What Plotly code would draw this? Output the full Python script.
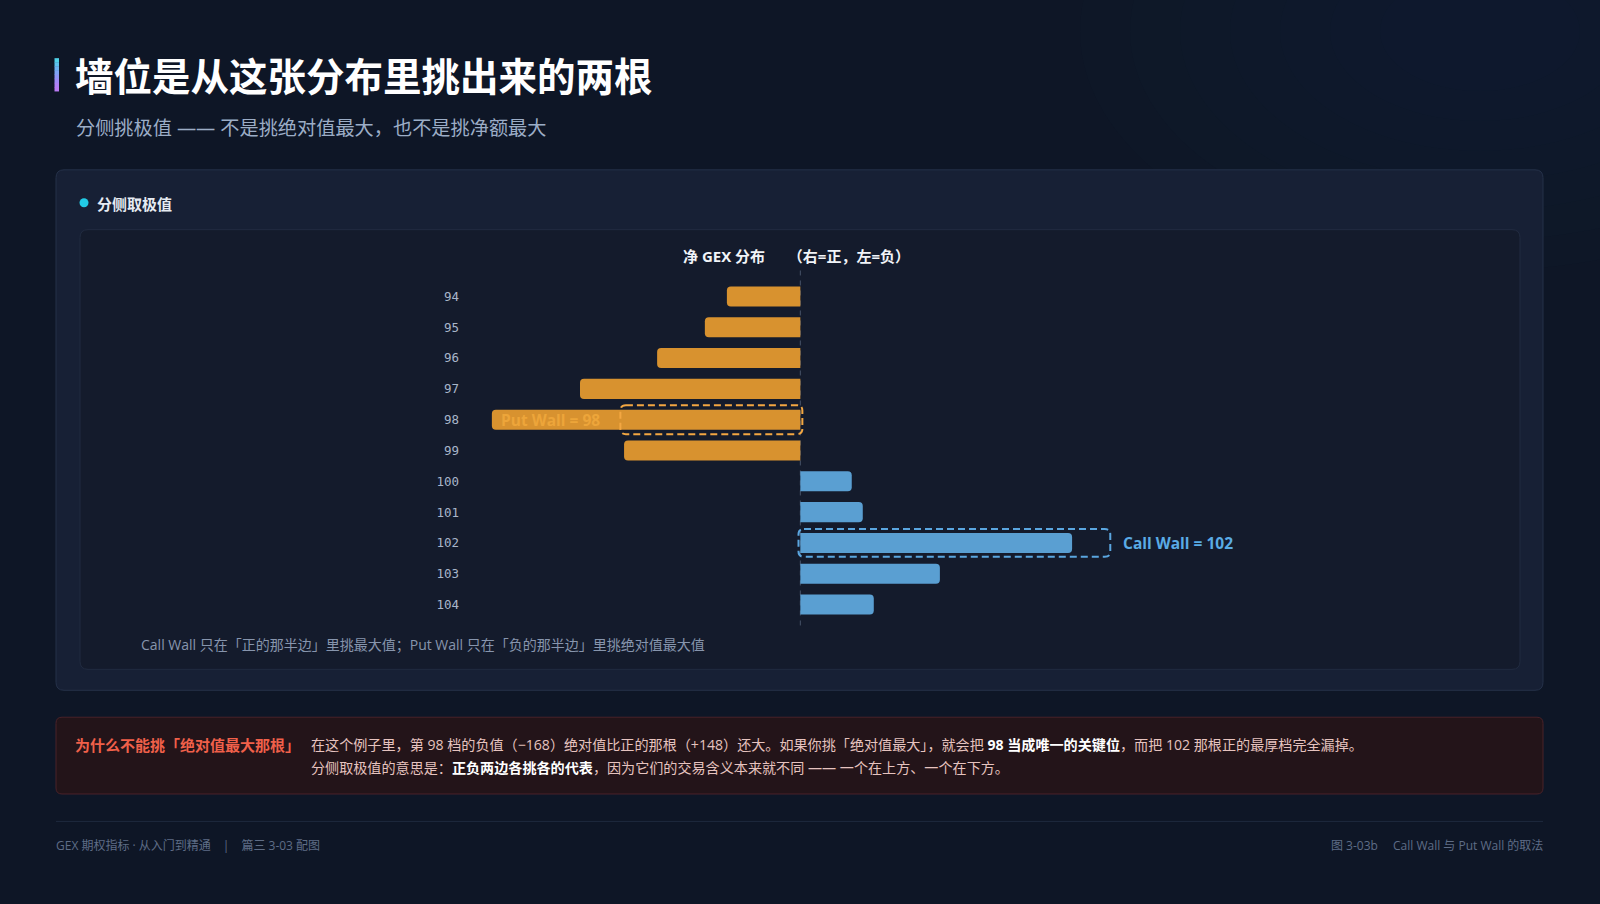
import plotly.graph_objects as go

# ---------------- data ----------------
strikes = [94, 95, 96, 97, 98, 99, 100, 101, 102, 103, 104]
net_gex = [-40, -52, -78, -120, -168, -96, 28, 34, 148, 76, 40]
tick_labels = [str(s) for s in strikes]
put_wall = 98
call_wall = 102

title_text = "墙位是从这张分布里挑出来的两根"
subtitle_text = "分侧挑极值 —— 不是挑绝对值最大，也不是挑净额最大"
card_title = "分侧取极值"
chart_title = "净 GEX 分布　  （右=正，左=负）"
footnote = "Call Wall 只在「正的那半边」里挑最大值；Put Wall 只在「负的那半边」里挑绝对值最大值"
warn_head = "为什么不能挑「绝对值最大那根」"
warn_line1 = ("在这个例子里，第 98 档的负值（−168）绝对值比正的那根（+148）还大。如果你挑「绝对值最大」，就会把 "
              "<span style='color:#ffffff'><b>98 当成唯一的关键位</b></span>，而把 102 那根正的最厚档完全漏掉。")
warn_line2 = ("分侧取极值的意思是：<span style='color:#ffffff'><b>正负两边各挑各的代表</b></span>"
              "，因为它们的交易含义本来就不同 —— 一个在上方、一个在下方。")
footer_left = "GEX 期权指标 · 从入门到精通　|　篇三 3-03 配图"
footer_right = "图 3-03b　 Call Wall 与 Put Wall 的取法"

# ---------------- geometry ----------------
W, H = 1600, 904
L, R, T, B = 468, 1277, 280.5, 620.5
XMIN, XMAX = -181.0, 259.6

def X(px):
    return (px - L) / (R - L)

def Y(py):
    return (B - py) / (B - T)

FONT = "Open Sans, Noto Sans CJK SC, sans-serif"
CJK = "Noto Sans CJK SC, sans-serif"
ORANGE = "#d8922f"
BLUE = "#5a9fd2"

colors = [ORANGE if v < 0 else BLUE for v in net_gex]

fig = go.Figure()
fig.add_trace(go.Bar(
    x=net_gex, y=strikes, orientation="h",
    marker=dict(color=colors, line=dict(width=0), cornerradius=4),
    width=0.65, hoverinfo="x+y", showlegend=False,
))

shapes = []

def rect_px(x0, y0, x1, y1, fill, line="rgba(0,0,0,0)", lw=1, layer="below"):
    shapes.append(dict(type="rect", xref="paper", yref="paper",
                       x0=X(x0), x1=X(x1), y0=Y(y1), y1=Y(y0),
                       fillcolor=fill, line=dict(color=line, width=lw), layer=layer))

def rounded_px(x0, y0, x1, y1, r, fill, line, lw=1):
    pts = (f"M {X(x0+r)},{Y(y0)} L {X(x1-r)},{Y(y0)} Q {X(x1)},{Y(y0)} {X(x1)},{Y(y0+r)} "
           f"L {X(x1)},{Y(y1-r)} Q {X(x1)},{Y(y1)} {X(x1-r)},{Y(y1)} "
           f"L {X(x0+r)},{Y(y1)} Q {X(x0)},{Y(y1)} {X(x0)},{Y(y1-r)} "
           f"L {X(x0)},{Y(y0+r)} Q {X(x0)},{Y(y0)} {X(x0+r)},{Y(y0)} Z")
    shapes.append(dict(type="path", xref="paper", yref="paper", path=pts,
                       fillcolor=fill, line=dict(color=line, width=lw), layer="below"))

# very soft glow top-right
for rad in [400, 350, 300, 250, 200, 150, 100]:
    cx, cy = 1480, 30
    shapes.append(dict(type="circle", xref="paper", yref="paper",
                       x0=X(cx - rad), x1=X(cx + rad), y0=Y(cy + rad * 0.6), y1=Y(cy - rad * 0.6),
                       fillcolor="rgba(30,44,70,0.045)", line=dict(width=0), layer="below"))

# title accent bar (gradient cyan -> violet)
grad = ["#4fd1e8", "#5cc2ee", "#6cb2f2", "#7da2f5", "#8e94f6", "#9f88f6", "#ae80f5", "#b97af3"]
n = len(grad)
for i, c in enumerate(grad):
    y0 = 57 + i * 33 / n
    rect_px(54.5, y0, 59, y0 + 33 / n + 0.4, c)

rounded_px(56, 169, 1543, 691, 8, "#172035", "#253149", 1)
rounded_px(80, 229, 1520, 670, 8, "#141b2c", "#212b40", 1)
rounded_px(56, 718, 1543, 795, 6, "#231419", "#4a2229", 1)
shapes.append(dict(type="line", xref="paper", yref="paper", x0=X(56), x1=X(1543),
                   y0=Y(822.5), y1=Y(822.5), line=dict(color="#1f2a3e", width=1), layer="below"))
shapes.append(dict(type="circle", xref="paper", yref="paper",
                   x0=X(79.5), x1=X(88.5), y0=Y(206.5), y1=Y(197.5),
                   fillcolor="#22cbe6", line=dict(width=0), layer="below"))

shapes.append(dict(type="line", xref="x", yref="paper", x0=0, x1=0, y0=Y(626), y1=Y(266),
                   line=dict(color="#465268", width=1, dash="5px,5px"), layer="below"))

def rounded_data(x0, x1, yc, hh, rx, ry, color):
    y0, y1 = yc - hh, yc + hh
    p = (f"M {x0+rx},{y0} L {x1-rx},{y0} Q {x1},{y0} {x1},{y0+ry} L {x1},{y1-ry} Q {x1},{y1} {x1-rx},{y1} "
         f"L {x0+rx},{y1} Q {x0},{y1} {x0},{y1-ry} L {x0},{y0+ry} Q {x0},{y0} {x0+rx},{y0} Z")
    shapes.append(dict(type="path", xref="x", yref="y", path=p,
                       line=dict(color=color, width=2, dash="7px,4px"),
                       fillcolor="rgba(0,0,0,0)", layer="above"))

rounded_data(-98, 1.1, put_wall, 0.47, 3.0, 0.17, "#f3a742")
rounded_data(-1.0, 168.8, call_wall, 0.45, 3.0, 0.17, "#5aa6e0")

annotations = []

def text_px(x, y, txt, size, color, anchor="left", bold=False, family=FONT):
    annotations.append(dict(xref="paper", yref="paper", x=X(x), y=Y(y), text=(f"<b>{txt}</b>" if bold else txt),
                            showarrow=False, xanchor=anchor, yanchor="middle",
                            font=dict(family=family, size=size, color=color)))

text_px(73, 72.5, title_text, 38.5, "#ffffff", bold=True, family=CJK)
text_px(74, 127, subtitle_text, 19.2, "#9cadc6")
text_px(95, 202.5, card_title, 15, "#e6ebf2", bold=True, family=CJK)
text_px(796, 255, chart_title, 15, "#f1f4f8", anchor="center", bold=True)
text_px(139, 645.5, footnote, 14, "#8795ad")
text_px(72.5, 745, warn_head, 15, "#f0604a", bold=True, family=CJK)
text_px(309, 745, warn_line1, 14.1, "#e6c3bf")
text_px(309, 768.5, warn_line2, 14.1, "#e6c3bf")
text_px(54, 847, footer_left, 12, "#5f6d86")
text_px(1545, 847, footer_right, 12, "#5f6d86", anchor="right")

annotations.append(dict(xref="x", yref="y", x=-164, y=put_wall, text="<b>Put Wall = 98</b>",
                        showarrow=False, xanchor="left", yanchor="middle",
                        font=dict(family=FONT, size=15.5, color="#eda53a")))
annotations.append(dict(xref="x", yref="y", x=174.5, y=call_wall, text="<b>Call Wall = 102</b>",
                        showarrow=False, xanchor="left", yanchor="middle",
                        font=dict(family=FONT, size=15.5, color="#5aabe6")))

fig.update_layout(
    width=W, height=H,
    margin=dict(l=L, r=W - R, t=T, b=H - B, pad=0),
    paper_bgcolor="#0e1626",
    plot_bgcolor="rgba(0,0,0,0)",
    font=dict(family=FONT, color="#e6ebf2"),
    shapes=shapes,
    annotations=annotations,
    xaxis=dict(range=[XMIN, XMAX], showgrid=False, zeroline=False, showticklabels=False,
               showline=False, ticks="", fixedrange=True),
    yaxis=dict(range=[104.5, 93.5], tickvals=strikes, ticktext=tick_labels, showgrid=False,
               zeroline=False, showline=False, ticks="", ticklabelstandoff=8,
               tickfont=dict(family="DejaVu Sans Mono", size=12.5, color="#a9b6ca"), fixedrange=True),
    showlegend=False,
)

fig.write_html("out.html", config={"displayModeBar": False},
               post_script="document.body.style.margin='0';document.body.style.overflow='hidden';")
